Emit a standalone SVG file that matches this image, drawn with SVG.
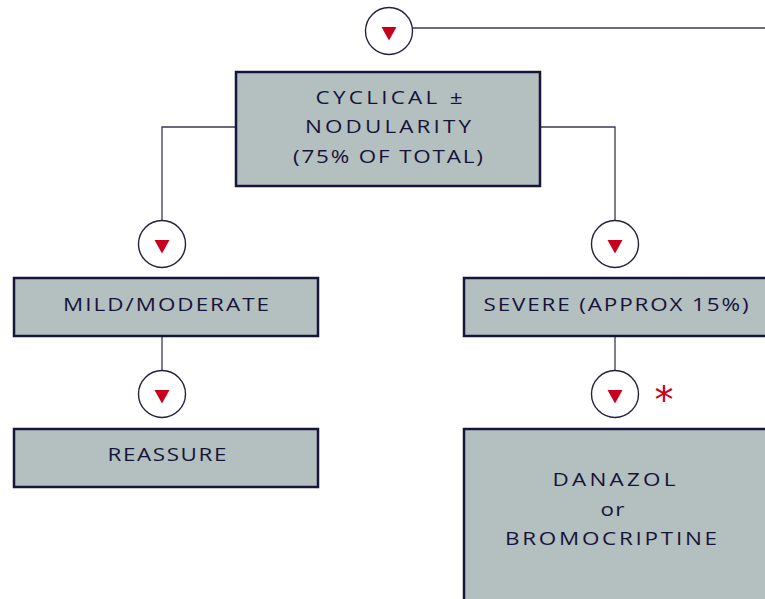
<svg xmlns="http://www.w3.org/2000/svg" width="765" height="599" viewBox="0 0 765 599">
<style>
.box{fill:#b4bfbf;stroke:#16163a;stroke-width:2.5}
.lbl{font-family:"Open Sans","DejaVu Sans",sans-serif;font-size:19px;fill:#14143a;text-anchor:middle}
.circ{fill:#ffffff;stroke:#22223f;stroke-width:1.4}
.tri{fill:#c8001e}
.conn{fill:none;stroke:#3a3a55;stroke-width:1.3}
</style>
<defs>
<g id="dn"><circle class="circ" r="23.5"/><polygon class="tri" points="-7.5,-4 7.5,-4 0,9.5"/></g>
</defs>
<rect width="765" height="599" fill="#ffffff"/>
<g id="connectors">
<line class="conn" x1="412" y1="28" x2="765" y2="28"/>
<polyline class="conn" points="236,127 162,127 162,221"/>
<polyline class="conn" points="540,127 615,127 615,221"/>
<line class="conn" x1="162" y1="336" x2="162" y2="371"/>
<line class="conn" x1="615" y1="336" x2="615" y2="371"/>
</g>
<g id="arrow-top"><use href="#dn" x="389" y="31"/></g>
<g id="arrow-left1"><use href="#dn" x="162" y="244"/></g>
<g id="arrow-right1"><use href="#dn" x="615" y="244"/></g>
<g id="arrow-left2"><use href="#dn" x="162" y="394"/></g>
<g id="arrow-right2"><use href="#dn" x="615" y="394"/>
<text x="664" y="413" font-family="DejaVu Sans,sans-serif" font-size="38" fill="#c8001e" text-anchor="middle">*</text></g>
<g id="node-cyclical">
<rect class="box" x="236" y="72" width="304" height="114"/>
<text class="lbl" transform="translate(389,104) scale(1.18,1)" textLength="124.6" lengthAdjust="spacing">CYCLICAL ±</text>
<text class="lbl" transform="translate(388,133) scale(1.18,1)" textLength="140.7" lengthAdjust="spacing">NODULARITY</text>
<text class="lbl" transform="translate(388,163) scale(1.18,1)" textLength="161" lengthAdjust="spacing">(75% OF TOTAL)</text>
</g>
<g id="node-mild">
<rect class="box" x="14" y="278" width="304" height="58"/>
<text class="lbl" transform="translate(166,311) scale(1.18,1)" textLength="174.6" lengthAdjust="spacing">MILD/MODERATE</text>
</g>
<g id="node-severe">
<rect class="box" x="464" y="278" width="304" height="58"/>
<text class="lbl" transform="translate(616,311) scale(1.18,1)" textLength="224.6" lengthAdjust="spacing">SEVERE (APPROX 15%)</text>
</g>
<g id="node-reassure">
<rect class="box" x="14" y="429" width="304" height="58"/>
<text class="lbl" transform="translate(167,461) scale(1.18,1)" textLength="100.8" lengthAdjust="spacing">REASSURE</text>
</g>
<g id="node-danazol">
<rect class="box" x="464" y="429" width="304" height="175"/>
<text class="lbl" transform="translate(614,486) scale(1.18,1)" textLength="104.2" lengthAdjust="spacing">DANAZOL</text>
<text class="lbl" transform="translate(613,516) scale(1.18,1)" letter-spacing="1">or</text>
<text class="lbl" transform="translate(611,545) scale(1.18,1)" textLength="179.7" lengthAdjust="spacing">BROMOCRIPTINE</text>
</g>
</svg>
